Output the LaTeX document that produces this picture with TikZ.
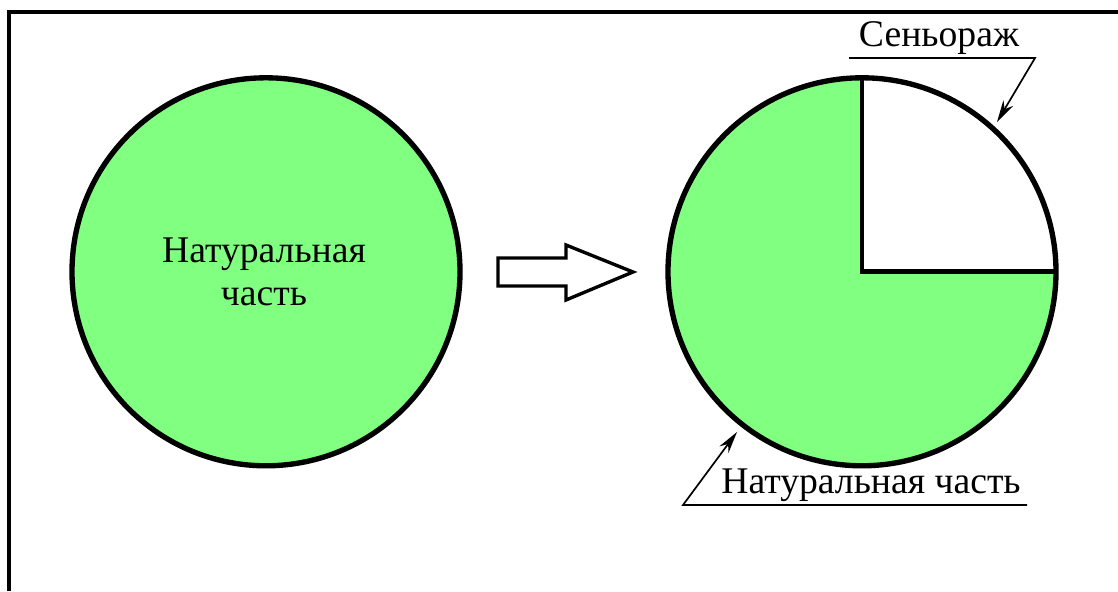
\documentclass[tikz,border=0pt]{standalone}
\usepackage{fontspec}
\setmainfont{Liberation Serif}
\usetikzlibrary{arrows.meta}
\definecolor{natgreen}{RGB}{128,255,128}
\tikzset{
    part/.style={fill=natgreen, draw=black, line width=3.8pt},
    leader/.style={line width=1.2pt, -{Stealth[length=0.55cm, width=0.28cm]}},
    lbl/.style={font=\fontsize{26.8}{30.6}\selectfont, inner sep=0pt}
}

\begin{document}
\begin{tikzpicture}
    \useasboundingbox (0, 0) rectangle (27.95, 14.775);
    \draw [line width=2.8pt] (0.225, 0) -- (0.225, 14.475) -- (27.95, 14.475);

    % before
    \draw [part] (6.65, 7.98) circle (4.85);
    \node [lbl, align=center] (natWhole) at (6.6, 7.98) {Натуральная\\часть};

    % hollow arrow
    \draw [line width=2.4pt, line join=miter] (12.45, 7.625) -- (12.45, 8.325) -- (14.15, 8.325) -- (14.15, 8.65)
        -- (15.825, 7.975) -- (14.15, 7.275) -- (14.15, 7.625) -- cycle;

    % after
    \coordinate (c) at (21.55, 7.98);
    \fill [natgreen] (c) circle (4.85);
    \fill [white] (c) -- ++(4.85, 0) arc (0:90:4.85) -- cycle;
    \draw [line width=3.4pt] (c) ++(0, 4.85) -- (c) -- ++(4.85, 0);
    \draw [line width=3.8pt] (c) circle (4.85);

    \node [lbl, anchor=base] (seign) at (23.475, 13.6) {Сеньораж};
    \coordinate (seignL) at (21.225, 13.325);
    \coordinate (seignR) at (25.875, 13.325);
    \coordinate (seignTip) at (24.925, 11.725);
    \draw [leader] (seignL) -- (seignR) -- (seignTip);

    \node [lbl, anchor=base] (natPart) at (21.775, 2.45) {Натуральная часть};
    \coordinate (natL) at (17.075, 2.15);
    \coordinate (natR) at (25.675, 2.15);
    \coordinate (natTip) at (18.425, 3.975);
    \draw [leader] (natR) -- (natL) -- (natTip);
\end{tikzpicture}
\end{document}
